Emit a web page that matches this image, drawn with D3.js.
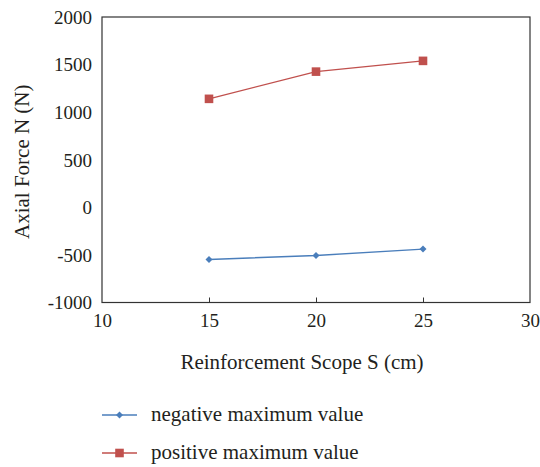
<!DOCTYPE html>
<html>
<head>
<meta charset="utf-8">
<script src="https://cdn.jsdelivr.net/npm/d3@7"></script>
<style>
  html, body { margin: 0; padding: 0; background: #fff; }
  svg text { font-family: "Liberation Serif", "DejaVu Serif", serif; fill: #231f20; }
</style>
</head>
<body>
<svg id="chart" width="540" height="467"></svg>
<script>
// Reinforcement scope (cm)
const scopes = [15, 20, 25];
// Axial force extremes (N)
const negativeMax = [-548, -506, -439];
const positiveMax = [1140, 1426, 1539];
const seriesNames = ["negative maximum value", "positive maximum value"];
const xTicks = [10, 15, 20, 25, 30];
const yTicks = [-1000, -500, 0, 500, 1000, 1500, 2000];

const svg = d3.select("#chart");
const plotL = 102, plotR = 530, plotT = 17, plotB = 302.5;
const serif = "Liberation Serif";

const x = d3.scaleLinear().domain([10, 30]).range([plotL, plotR]);
const y = d3.scaleLinear().domain([-1000, 2000]).range([plotB, plotT]);

const blue = "#4a7ebb", red = "#c0504d";
const plain = d => String(d);

// frame
svg.append("rect")
  .attr("x", plotL).attr("y", plotT)
  .attr("width", plotR - plotL).attr("height", plotB - plotT)
  .attr("fill", "none").attr("stroke", "#333").attr("stroke-width", 1.2);

// x axis: inward ticks on the interior values
const xAxis = svg.append("g").attr("transform", `translate(0,${plotB})`)
  .call(d3.axisBottom(x).tickValues(xTicks).tickFormat(plain)
    .tickSizeInner(-5).tickSizeOuter(0).tickPadding(11))
  .attr("font-family", serif).attr("font-size", 19);
xAxis.select(".domain").remove();
xAxis.selectAll(".tick line")
  .attr("stroke", "#333")
  .attr("display", d => (d === 10 || d === 30) ? "none" : null);
xAxis.selectAll("text").style("font-size", "19px").style("font-family", serif).style("fill", "#231f20");

// y axis: labels only
const yAxis = svg.append("g").attr("transform", `translate(${plotL},0)`)
  .call(d3.axisLeft(y).tickValues(yTicks).tickFormat(plain).tickSize(0).tickPadding(10))
  .attr("font-family", serif).attr("font-size", 19);
yAxis.select(".domain").remove();
yAxis.selectAll("text").style("font-size", "19px").style("font-family", serif).style("fill", "#231f20")
  .attr("dy", "0.33em");

// axis titles
svg.append("text")
  .attr("x", (plotL + plotR) / 2 - 14).attr("y", 369)
  .attr("text-anchor", "middle").style("font-size", "21px")
  .text("Reinforcement Scope S (cm)");
svg.append("text")
  .attr("transform", `translate(29,${(plotT + plotB) / 2 + 2}) rotate(-90)`)
  .attr("text-anchor", "middle").style("font-size", "21px")
  .text("Axial Force N (N)");

const line = d3.line().x(d => x(d[0])).y(d => y(d[1]));

function drawSeries(vals, color, marker) {
  const pts = scopes.map((s, i) => [s, vals[i]]);
  svg.append("path").datum(pts)
    .attr("d", line).attr("fill", "none")
    .attr("stroke", color).attr("stroke-width", 1.4);
  svg.selectAll(null).data(pts).enter().append("path")
    .attr("transform", d => `translate(${x(d[0])},${y(d[1])})`)
    .attr("d", marker)
    .attr("fill", color);
}

const diamond = "M0,-3.5L3.5,0L0,3.5L-3.5,0Z";
const square = "M-4.3,-4.3H4.3V4.3H-4.3Z";
drawSeries(negativeMax, blue, diamond);
drawSeries(positiveMax, red, square);

// legend
const legend = [
  { name: seriesNames[0], color: blue, marker: diamond, y: 415 },
  { name: seriesNames[1], color: red, marker: square, y: 453 }
];
legend.forEach(l => {
  svg.append("line").attr("x1", 102).attr("x2", 137).attr("y1", l.y).attr("y2", l.y)
    .attr("stroke", l.color).attr("stroke-width", 1.4);
  svg.append("path").attr("transform", `translate(119.5,${l.y})`).attr("d", l.marker).attr("fill", l.color);
  svg.append("text").attr("x", 151).attr("y", l.y + 6).style("font-size", "21px").text(l.name);
});
</script>
</body>
</html>
